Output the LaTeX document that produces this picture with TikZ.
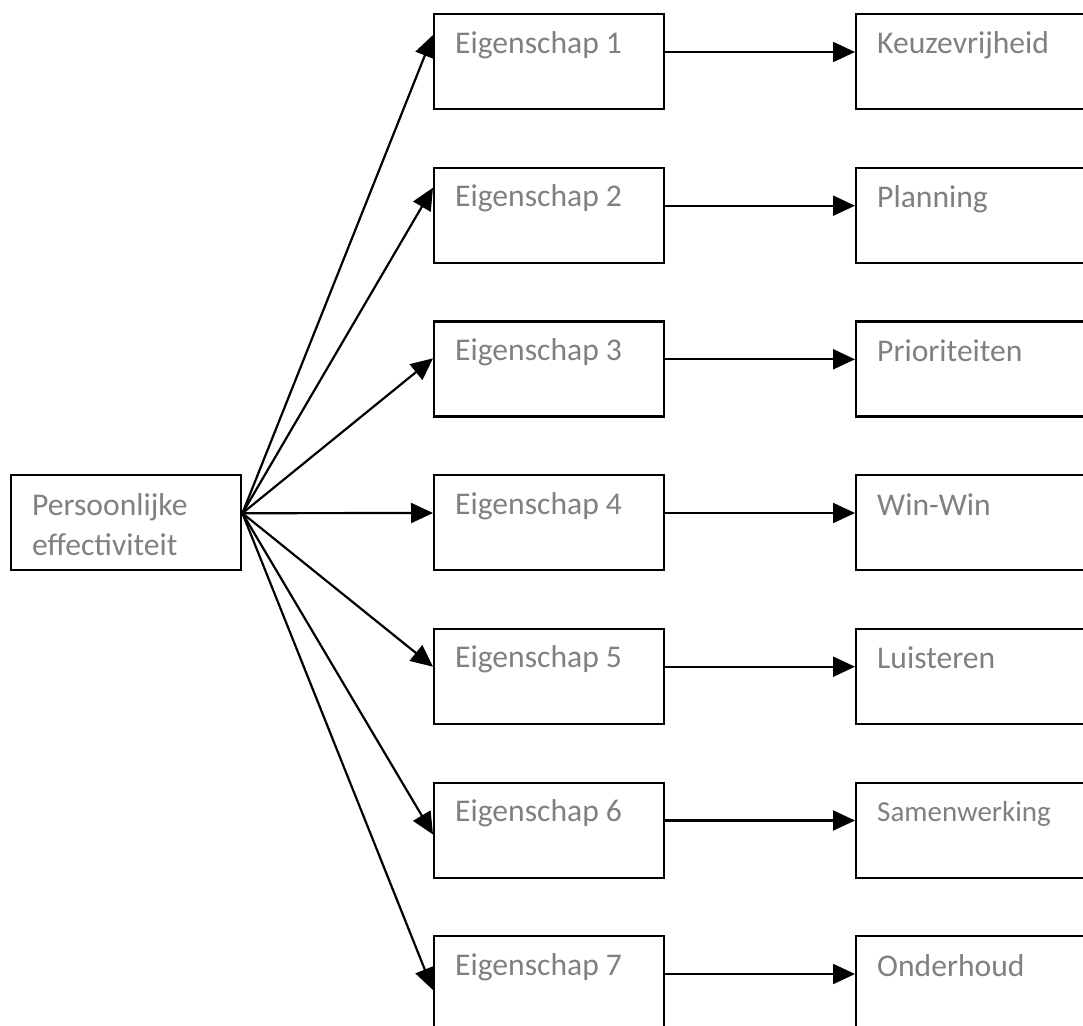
\documentclass[tikz,border=0pt]{standalone}
\usepackage{fontspec}
\setmainfont{Carlito}
\usetikzlibrary{arrows.meta}
\definecolor{labelgray}{HTML}{808080}
\begin{document}
\begin{tikzpicture}[x=1pt,y=-1pt,
  box/.style={draw=black,line width=2.4pt,rectangle,inner sep=0pt,anchor=north west,
              minimum width=230pt,minimum height=95pt},
  wide/.style={box,minimum width=300pt},
  txt/.style={anchor=base west,inner sep=0pt,text=labelgray,
              font=\fontsize{31.6}{40}\selectfont},
  small/.style={txt,font=\fontsize{29}{36}\selectfont},
  arr/.style={line width=2.2pt,-{Triangle[length=22pt,width=20pt]}}]
\useasboundingbox (0,0) rectangle (1083,1025);
\clip (0,0) rectangle (1083,1025);

% source box
\node[box] (p) at (10,474) {};
\node[txt] (pt1) at ([shift={(22,41)}]p.north west) {Persoonlijke};
\node[txt] (pt2) at ([shift={(22,81)}]p.north west) {effectiviteit};

% middle column
\foreach \i/\t in {1/13,2/166.7,3/320.3,4/474,5/627.7,6/781.5,7/935}{
  \node[box] (e\i) at (433,\t) {};
  \node[txt] (e\i t) at ([shift={(22,40)}]e\i.north west) {Eigenschap \i};
  \node[wide] (k\i) at (855,\t) {};
}

% right column labels
\node[txt] (k1t) at ([shift={(22,41)}]k1.north west) {Keuzevrijheid};
\node[txt] (k2t) at ([shift={(22,41)}]k2.north west) {Planning};
\node[txt] (k3t) at ([shift={(22,41)}]k3.north west) {Prioriteiten};
\node[txt] (k4t) at ([shift={(22,41)}]k4.north west) {Win-Win};
\node[txt] (k5t) at ([shift={(22,41)}]k5.north west) {Luisteren};
\node[small] (k6t) at ([shift={(22,40)}]k6.north west) {Samenwerking};
\node[txt] (k7t) at ([shift={(22,41)}]k7.north west) {Onderhoud};

% fan from the source box
\coordinate (src) at ([shift={(0,-9.5)}]p.east);
\foreach \i/\d in {1/22,2/21,3/38,4/39,5/39,6/53,7/55}{
  \draw[arr] (src) -- ([shift={(0,\d)}]e\i.north west);
}

% straight links to the right column
\foreach \i in {1,...,7}{
  \draw[arr] ([shift={(0,39)}]e\i.north east) -- ([shift={(0,39)}]k\i.north west);
}
\end{tikzpicture}
\end{document}
